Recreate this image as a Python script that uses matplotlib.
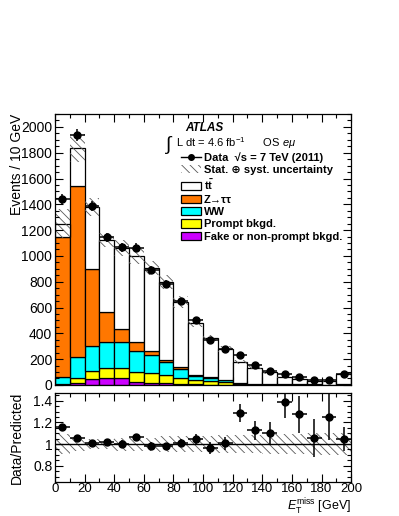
import numpy as np
import matplotlib
matplotlib.use('Agg')
import matplotlib as mpl
import matplotlib.pyplot as plt
from matplotlib.patches import Patch
from matplotlib.lines import Line2D
from matplotlib.ticker import MultipleLocator, FormatStrFormatter

figfontsize = 9
params = {'font.family': ['Liberation Sans', 'DejaVu Sans'],
          'font.size': figfontsize,
          'mathtext.fontset': 'custom',
          'mathtext.rm': 'Liberation Sans',
          'mathtext.it': 'Liberation Sans:italic',
          'mathtext.bf': 'Liberation Sans:bold',
          'hatch.linewidth': 0.6}
mpl.rcParams.update(params)

# bin edges, GeV
edges = np.arange(0, 210, 10)

# stacked backgrounds (events / 10 GeV), bottom to top
fake   = [2, 13, 44, 52, 52, 20, 15, 12, 8, 5, 3, 2, 1, 1, 1, 0.5, 0.5, 0.5, 0.5, 1]
prompt = [3, 39, 67, 77, 82, 78, 76, 68, 44, 30, 30, 20, 8, 5, 3, 2, 1.5, 1.5, 0.5, 2]
ww     = [59, 163, 194, 207, 197, 168, 142, 96, 70, 35, 21, 14, 5, 4, 2, 1, 1, 1, 1, 2]
ztt    = [1086, 1328, 594, 232, 103, 70, 33, 18, 15, 8, 5, 2, 1, 1, 0.5, 0.5, 0.5, 0.5, 0.5, 0.5]
ttbar  = [98, 292, 478, 556, 628, 664, 639, 606, 508, 402, 306, 242, 165, 124, 90, 58, 43.5, 30.5, 25.5, 77.5]

# relative stat+syst uncertainty on prediction
rel_unc = [0.09, 0.06, 0.05, 0.05, 0.06, 0.06, 0.06, 0.07, 0.07, 0.07,
           0.07, 0.08, 0.08, 0.08, 0.09, 0.09, 0.09, 0.10, 0.10, 0.10]

# data
data     = [1439, 1938, 1388, 1145, 1067, 1064, 891, 783, 652, 504,
            352, 282, 231, 152, 106, 86, 60, 36, 35, 87]
data_err = [38, 44, 37, 34, 33, 33, 30, 28, 25, 22, 19, 17, 15, 12, 10, 9, 8, 6, 6, 9]

comps = [(fake, '#cc00ff'), (prompt, '#ffff00'), (ww, '#00ffff'),
         (ztt, '#ff7700'), (ttbar, 'white')]

x = edges[:-1]
xc = x + 5
total = np.sum([np.array(c) for c, _ in comps], axis=0)
unc = total * np.array(rel_unc)

fig = plt.figure(figsize=(3.99, 5.16), dpi=100)
ax1 = fig.add_axes([0.138, 0.254, 0.742, 0.525])
ax2 = fig.add_axes([0.138, 0.066, 0.742, 0.172])

bottom = np.zeros(len(x))
for vals, col in comps:
    ax1.bar(x, vals, width=10, bottom=bottom, align='edge', color=col,
            edgecolor='k', linewidth=0.9)
    bottom = bottom + np.array(vals)

ax1.bar(x, 2 * unc, width=10, bottom=total - unc, align='edge', fill=False,
        hatch='\\\\\\\\', edgecolor='0.35', linewidth=0)
ax1.errorbar(xc, data, xerr=5, yerr=data_err, fmt='o', color='k', ms=5,
             elinewidth=1.1, capsize=0)

ax1.set_xlim(0, 200)
ax1.set_ylim(0, 2100)
ax1.set_xticklabels([])
ax1.yaxis.set_major_locator(MultipleLocator(200))
ax1.yaxis.set_minor_locator(MultipleLocator(50))
ax1.set_ylabel('Events / 10 GeV', loc='top', fontsize=10)
ax1.yaxis.set_label_coords(-0.105, 1.0)

# ratio panel
ratio = np.array(data) / total
ratio_err = np.array(data_err) / total
ax2.bar(x, 2 * np.array(rel_unc), width=10, bottom=1 - np.array(rel_unc),
        align='edge', fill=False, hatch='\\\\\\\\', edgecolor='0.35', linewidth=0)
ax2.axhline(1, color='k', lw=1)
ax2.errorbar(xc, ratio, xerr=5, yerr=ratio_err, fmt='o', color='k', ms=5,
             elinewidth=1.1, capsize=0)
ax2.set_xlim(0, 200)
ax2.set_ylim(0.65, 1.47)
ax2.yaxis.set_major_locator(MultipleLocator(0.2))
ax2.yaxis.set_minor_locator(MultipleLocator(0.05))
ax2.yaxis.set_major_formatter(FormatStrFormatter('%g'))
ax2.set_ylabel('Data/Predicted', fontsize=10)
ax2.yaxis.set_label_coords(-0.105, 0.5)
ax2.set_xlabel(r'$E_{\mathrm{T}}^{\mathrm{miss}}$ [GeV]', loc='right', fontsize=9)
ax2.xaxis.set_label_coords(1.0, -0.17)

for ax in (ax1, ax2):
    ax.xaxis.set_major_locator(MultipleLocator(20))
    ax.xaxis.set_minor_locator(MultipleLocator(10))
    ax.tick_params(which='both', direction='in', top=True, right=True,
                   labelsize=10, width=0.8, pad=2)
    ax.tick_params(which='major', length=6)
    ax.tick_params(which='minor', length=3)
    for s in ax.spines.values():
        s.set_linewidth(0.9)
ax2.tick_params(axis='x', which='both', pad=1, labelsize=9.5)

# legend and labels
ax1.text(0.44, 0.95, 'ATLAS', transform=ax1.transAxes, fontsize=8.5,
         fontweight='bold', fontstyle='italic', va='center')
ax1.text(0.37, 0.885, r'$\int$', transform=ax1.transAxes, fontsize=14, va='center')
ax1.text(0.41, 0.893, r'L dt = 4.6 fb$^{-1}$      OS $e\mu$', transform=ax1.transAxes,
         fontsize=8, va='center')

handles = [Line2D([], [], marker='o', color='k', ms=4, lw=1),
           Patch(facecolor='white', edgecolor='0.35', hatch='\\\\\\\\', linewidth=0),
           Patch(facecolor='white', edgecolor='k', linewidth=0.9),
           Patch(facecolor='#ff7700', edgecolor='k', linewidth=0.9),
           Patch(facecolor='#00ffff', edgecolor='k', linewidth=0.9),
           Patch(facecolor='#ffff00', edgecolor='k', linewidth=0.9),
           Patch(facecolor='#cc00ff', edgecolor='k', linewidth=0.9)]
labels = ['Data  \u221as = 7 TeV (2011)', 'Stat. \u2295 syst. uncertainty',
          r'$\mathbf{t\bar{t}}$', 'Z\u2192\u03c4\u03c4', 'WW', 'Prompt bkgd.',
          'Fake or non-prompt bkgd.']
leg = ax1.legend(handles, labels, loc='upper left', bbox_to_anchor=(0.425, 0.86),
                 frameon=False, borderpad=0, borderaxespad=0, handlelength=1.8,
                 handleheight=0.75, handletextpad=0.25, labelspacing=0.22,
                 prop={'size': 8, 'weight': 'bold'})

plt.savefig('out.png', dpi=100)
plt.close()
